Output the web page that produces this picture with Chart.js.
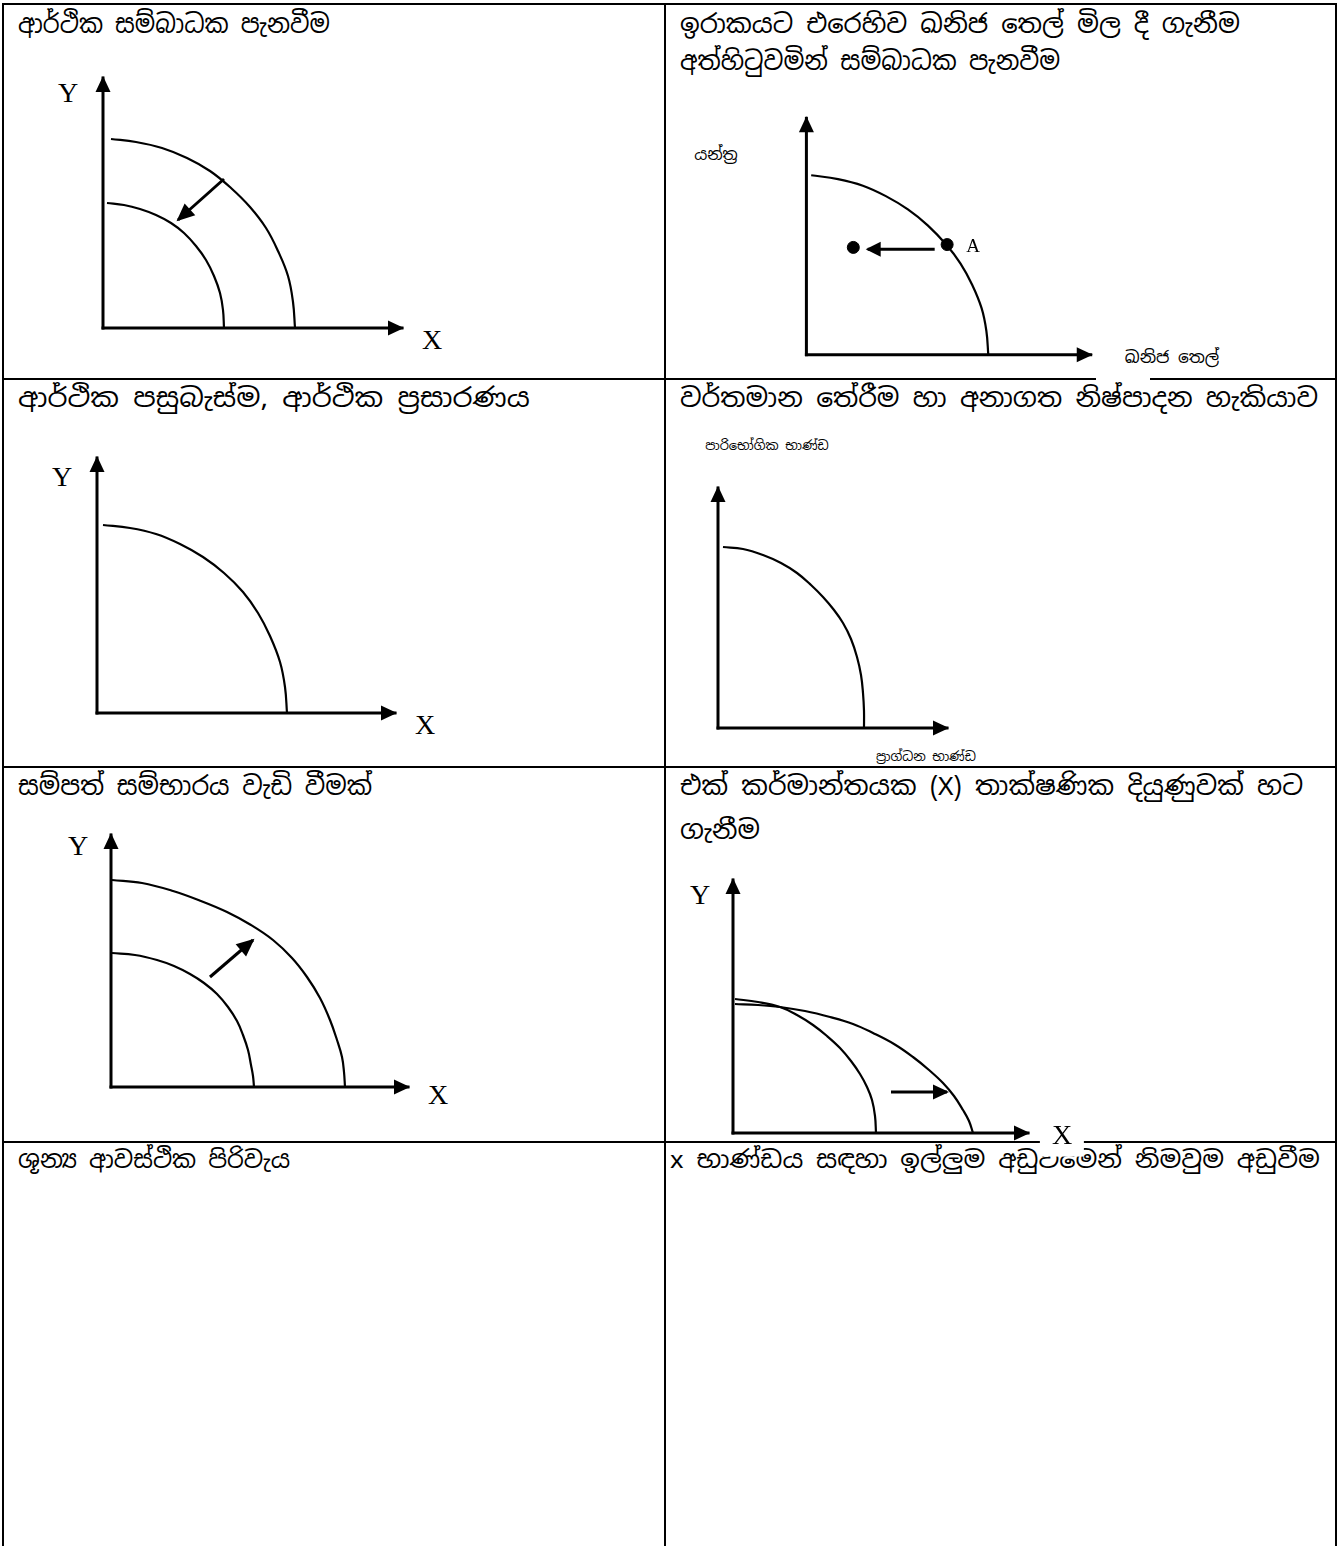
<!DOCTYPE html>
<html><head><meta charset="utf-8">
<script src="https://cdn.jsdelivr.net/npm/chart.js@4.4.1/dist/chart.umd.min.js"></script>
<style>
html,body{margin:0;padding:0;background:#fff;}
#page{position:relative;width:1339px;height:1546px;overflow:hidden;background:#fff;}
.hl{position:absolute;height:2px;background:#000;}
.vl{position:absolute;width:2px;background:#000;}
.h{position:absolute;font-family:"Noto Sans Sinhala","Iskoola Pota","Noto Sans","DejaVu Sans",sans-serif;font-size:26px;color:#000;white-space:nowrap;line-height:36px;height:36px;transform-origin:0 50%;}
.lab{position:absolute;transform:translate(-50%,-50%);white-space:nowrap;color:#000;line-height:1.1;}
.serif{font-family:"Liberation Serif","Times New Roman",serif;}
.sin{font-family:"Noto Sans Sinhala","Iskoola Pota","Noto Sans","DejaVu Sans",sans-serif;}
canvas{position:absolute;}
</style></head>
<body><div id="page"></div>
<script>
// ---------- text ----------
const headings = [
  "ආර්ථික සම්බාධක පැනවීම",
  "ඉරාකයට එරෙහිව ඛනිජ තෙල් මිල දී ගැනීම\nඅත්හිටුවමින් සම්බාධක පැනවීම",
  "ආර්ථික පසුබැස්ම, ආර්ථික ප්‍රසාරණය",
  "වර්තමාන තේරීම හා අනාගත නිෂ්පාදන හැකියාව",
  "සම්පත් සම්භාරය වැඩි වීමක්",
  "එක් කර්මාන්තයක (X) තාක්ෂණික දියුණුවක් හට\nගැනීම",
  "ශූන්‍ය ආවස්ථික පිරිවැය",
  "x භාණ්ඩය සඳහා ඉල්ලුම අඩුවීමෙන් නිමවුම අඩුවීම"
];
const axisLabelsD2 = ["යන්ත්‍ර", "ඛනිජ තෙල්"];
const axisLabelsD4 = ["පාරිභෝගික භාණ්ඩ", "ප්‍රාග්ධන භාණ්ඩ"];
const axisLabelsXY = ["X", "Y"];
const pointLabel = "A";

// ---------- data (diagram units, origin at axes corner) ----------
// Diagram 1: sanctions, PPF shifts inwards
const d1YAxis = [[0,0],[0,250]];
const d1XAxis = [[0,0],[299,0]];
const d1PpfBefore = [[8,189],[33,186],[59,180],[84,170],[107,157],[128,140],[147,121],[163,100],[175,77],[185,52],[190,26],[192,0]];
const d1PpfAfter = [[4,125],[21,123],[37,119],[53,113],[68,105],[81,95],[93,82],[103,68],[111,52],[117,35],[120,18],[121,0]];
const d1Shift = [[121,149],[75,108]];
// Diagram 2: oil purchase suspended, point A moves inside
const d2YAxis = [[0,0],[0,249]];
const d2XAxis = [[0,0],[297,0]];
const d2Ppf = [[5,189],[33,185],[59,178],[83,167],[106,153],[127,136],[146,116],[161,96],[173,74],[183,49],[188,25],[190,0]];
const d2PointA = [[147,116]];
const d2PointNew = [[49,113]];
const d2Move = [[134,111],[64,111]];
// Diagram 3: recession / expansion
const d3YAxis = [[0,0],[0,255]];
const d3XAxis = [[0,0],[298,0]];
const d3Ppf = [[6,188],[33,185],[59,179],[83,169],[106,156],[127,140],[146,121],[161,100],[173,77],[183,51],[188,26],[190,0]];
// Diagram 4: current choice and future capacity
const d4YAxis = [[0,0],[0,240]];
const d4XAxis = [[0,0],[229,0]];
const d4Ppf = [[5,181],[25,179],[45,173],[63,165],[79,155],[93,143],[105,131],[116,118],[125,105],[133,89],[139,71],[143,53],[145,35],[146,17],[146,0]];
// Diagram 5: increase in resources, PPF shifts outwards
const d5YAxis = [[0,0],[0,252]];
const d5XAxis = [[0,0],[297,0]];
const d5PpfAfter = [[1,207],[31,204],[62,196],[90,186],[116,175],[140,162],[162,147],[181,129],[196,110],[209,89],[219,67],[226,47],[231,30],[233,15],[234,0]];
const d5PpfBefore = [[1,134],[24,132],[46,127],[63,121],[79,113],[93,104],[106,93],[117,80],[126,66],[132,52],[137,37],[140,22],[142,11],[143,0]];
const d5Shift = [[99,110],[142,147]];
// Diagram 6: technology in industry X
const d6YAxis = [[0,0],[0,253]];
const d6XAxis = [[0,0],[295,0]];
const d6PpfBefore = [[2,134],[25,131],[47,126],[64,118],[80,108],[94,97],[107,85],[118,72],[127,59],[134,46],[139,33],[142,17],[143,0]];
const d6PpfAfter = [[2,129],[25,128],[47,126],[72,122],[97,116],[120,109],[140,100],[161,89],[180,76],[196,63],[210,50],[221,37],[230,23],[236,12],[240,0]];
const d6Shift = [[158,41],[214,41]];

// ---------- layout ----------
const page = document.getElementById('page');
function add(cls, css, text){
  const d=document.createElement('div'); d.className=cls; Object.assign(d.style,css);
  if(text!==undefined) d.textContent=text; page.appendChild(d); return d;
}
// table rules
add('hl',{left:'2px',top:'3px',width:'1335px'});
add('vl',{left:'2px',top:'3px',height:'1543px'});
add('vl',{left:'1335px',top:'3px',height:'1543px'});
add('vl',{left:'664px',top:'3px',height:'1543px'});
add('hl',{left:'2px',top:'378px',width:'664px'});
add('hl',{left:'664px',top:'378px',width:'432px'});
add('hl',{left:'1150px',top:'378px',width:'187px'});
add('hl',{left:'2px',top:'766px',width:'1335px'});
add('hl',{left:'2px',top:'1141px',width:'1335px'});

// heading lines: [left, centerY, right edge to fit, font size]
const headLineLayout = [
  [18,24,330,26],
  [680,24,1240,26],[680,61,1060,26],
  [18,398,530,26],
  [680,398,1318,26],
  [18,786,372,26],
  [680,786,1303,26],[680,830,760,26],
  [18,1160,290,24],
  [670,1160,1320,24]
];
const headLines = headings.flatMap(t=>t.split('\n'));
headLines.forEach((t,i)=>{
  const L=headLineLayout[i];
  const d=add('h',{left:L[0]+'px',top:(L[1]-18)+'px',fontSize:L[3]+'px'},t);
  const w=d.getBoundingClientRect().width;
  if(w>0) d.style.transform='scaleX('+((L[2]-L[0])/w).toFixed(3)+')';
});

function label(text, cx, cy, size, fam, extra){
  return add('lab '+fam, Object.assign({left:cx+'px',top:cy+'px',fontSize:size+'px'}, extra||{}), text);
}

// ---------- chart helpers ----------
const arrowPlugin = {
  id:'arrowHeads',
  afterDatasetsDraw(chart){
    const ctx=chart.ctx;
    chart.data.datasets.forEach((ds,i)=>{
      if(!ds.arrowHead) return;
      const pts=chart.getDatasetMeta(i).data, n=pts.length;
      const a=pts[n-2], b=pts[n-1];
      const ang=Math.atan2(b.y-a.y,b.x-a.x), c=Math.cos(ang), s=Math.sin(ang);
      const L=ds.arrowHead[0], W=ds.arrowHead[1];
      const tx=b.x+2*c, ty=b.y+2*s, bx=tx-L*c, by=ty-L*s;
      ctx.save(); ctx.fillStyle='#000'; ctx.beginPath();
      ctx.moveTo(tx,ty);
      ctx.lineTo(bx+W/2*s, by-W/2*c);
      ctx.lineTo(bx-W/2*s, by+W/2*c);
      ctx.closePath(); ctx.fill(); ctx.restore();
    });
  }
};
const toXY = arr => arr.map(p=>({x:p[0],y:p[1]}));
function axisDs(arr){ return {data:toXY(arr),showLine:true,borderColor:'#000',borderWidth:3,pointRadius:0,borderCapStyle:'square',clip:false,arrowHead:[16,15]}; }
function curveDs(arr){ return {data:toXY(arr),showLine:true,borderColor:'#000',borderWidth:2.2,pointRadius:0,tension:0.4,clip:false}; }
function arrowDs(arr,head){ return {data:toXY(arr),showLine:true,borderColor:'#000',borderWidth:3,pointRadius:0,tension:0,clip:false,arrowHead:head}; }
function dotDs(arr){ return {data:toXY(arr),showLine:false,pointRadius:6,pointBackgroundColor:'#000',pointBorderColor:'#000',clip:false}; }

function diagram(origin, xr, yr, datasets){
  const c=document.createElement('canvas');
  const w=xr[1]-xr[0], h=yr[1]-yr[0];
  c.width=w; c.height=h;
  Object.assign(c.style,{left:(origin[0]+xr[0])+'px',top:(origin[1]-yr[1])+'px',width:w+'px',height:h+'px'});
  page.appendChild(c);
  new Chart(c,{type:'scatter',data:{datasets},
    options:{responsive:false,animation:false,devicePixelRatio:1,
      layout:{padding:0},
      elements:{line:{capBezierPoints:false}},
      plugins:{legend:{display:false},tooltip:{enabled:false}},
      scales:{x:{type:'linear',display:false,min:xr[0],max:xr[1]},
              y:{type:'linear',display:false,min:yr[0],max:yr[1]}}},
    plugins:[arrowPlugin]});
}

// Diagram 1
diagram([103,328],[-14,316],[-14,264],[axisDs(d1YAxis),axisDs(d1XAxis),curveDs(d1PpfBefore),curveDs(d1PpfAfter),arrowDs(d1Shift,[18,16])]);
label(axisLabelsXY[1],68,93,28,'serif');
label(axisLabelsXY[0],432,340,28,'serif');
// Diagram 2
diagram([800,361],[-14,314],[-14,263],[axisDs(d2YAxis),axisDs(d2XAxis),curveDs(d2Ppf),dotDs(d2PointA),dotDs(d2PointNew),arrowDs(d2Move,[15,15])]);
label(pointLabel,973,246,19,'serif');
label(axisLabelsD2[0],716,155,16,'sin');
label(axisLabelsD2[1],1172,357,17,'sin');
// Diagram 3
diagram([97,713],[-14,314],[-14,269],[axisDs(d3YAxis),axisDs(d3XAxis),curveDs(d3Ppf)]);
label(axisLabelsXY[1],62,477,28,'serif');
label(axisLabelsXY[0],425,725,28,'serif');
// Diagram 4
diagram([718,728],[-14,246],[-14,254],[axisDs(d4YAxis),axisDs(d4XAxis),curveDs(d4Ppf)]);
label(axisLabelsD4[0],767,446,13,'sin');
label(axisLabelsD4[1],926,757,13,'sin');
// Diagram 5
diagram([111,1087],[-14,314],[-14,266],[axisDs(d5YAxis),axisDs(d5XAxis),curveDs(d5PpfAfter),curveDs(d5PpfBefore),arrowDs(d5Shift,[18,16])]);
label(axisLabelsXY[1],78,846,28,'serif');
label(axisLabelsXY[0],438,1095,28,'serif');
// Diagram 6
diagram([733,1133],[-14,312],[-14,267],[axisDs(d6YAxis),axisDs(d6XAxis),curveDs(d6PpfBefore),curveDs(d6PpfAfter),arrowDs(d6Shift,[16,15])]);
label(axisLabelsXY[1],700,895,28,'serif');
label(axisLabelsXY[0],1062,1138,28,'serif',{background:'#fff',padding:'0 12px 6px 12px'});
</script>
</body></html>
